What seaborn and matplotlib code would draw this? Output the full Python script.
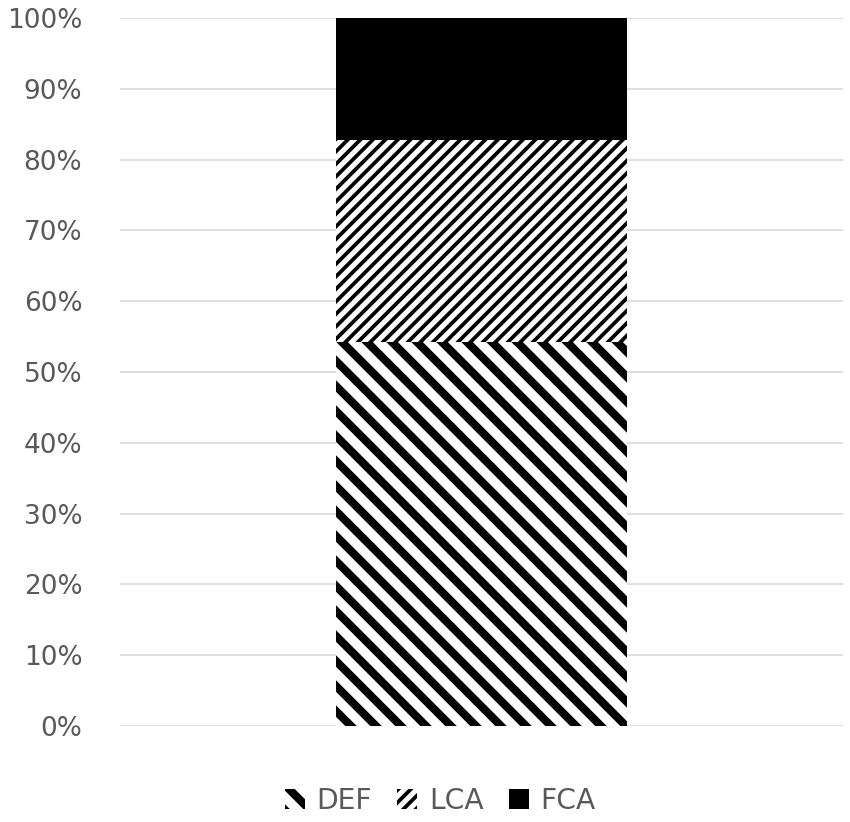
import numpy as np
import pandas as pd
import matplotlib.pyplot as plt
import matplotlib.ticker as mtick
import seaborn as sns
from matplotlib.patches import Patch

# shares of the single bar, in percent (bottom to top)
groups = ['DEF', 'LCA', 'FCA']
shares = [54.2, 28.6, 17.2]
hatches = ['\\\\', '////', '']
hatch_widths = [3.9, 1.8, 1.0]
fills = ['white', 'white', 'black']

if __name__ == '__main__':
    sns.set_theme(style="white")
    plt.rcParams['font.family'] = ['DejaVu Sans']

    dpi = 150
    figure = plt.figure(figsize=(850 / dpi, 822 / dpi), dpi=dpi)
    ax = figure.add_axes([0.141, 0.117, 0.851, 0.861])

    df = pd.DataFrame({'group': groups, 'share': shares})
    df['top'] = df['share'].cumsum()
    df['x'] = ''

    # draw tallest cumulative bar first so lower segments sit on top
    for i in reversed(range(len(df))):
        sns.barplot(x='x', y='top', data=df.iloc[[i]], ax=ax, width=0.402,
                    color=fills[i], edgecolor='black', linewidth=0,
                    hatch=hatches[i] or None, zorder=3)
        patch = ax.patches[-1]
        if hasattr(patch, 'set_hatch_linewidth'):
            patch.set_hatch_linewidth(hatch_widths[i])

    ax.set_ylim(0, 100)
    ax.set_xlim(-0.5, 0.5)
    ax.yaxis.set_major_locator(mtick.MultipleLocator(10))
    ax.yaxis.set_major_formatter(mtick.PercentFormatter(100, decimals=0))
    ax.yaxis.grid(True, color='#d9d9d9', linewidth=0.8, zorder=0)
    ax.set_axisbelow(True)
    for side in ['top', 'right', 'left', 'bottom']:
        ax.spines[side].set_visible(False)
    ax.tick_params(axis='y', length=0, pad=18, labelsize=12.7, labelcolor='#595959')
    ax.tick_params(axis='x', length=0, labelbottom=False)
    ax.set_xlabel('')
    ax.set_ylabel('')

    handles = []
    for i, g in enumerate(groups):
        h = Patch(facecolor=fills[i], edgecolor='black', linewidth=0,
                  hatch=hatches[i] or None, label=g)
        handles.append(h)
    leg = figure.legend(handles=handles, loc='center', bbox_to_anchor=(0.518, 0.026),
                        ncol=3, frameon=False, fontsize=13.5, handlelength=0.7,
                        handleheight=0.7, handletextpad=0.42, columnspacing=0.9)
    for t in leg.get_texts():
        t.set_color('#595959')
    for h, w in zip(leg.legend_handles, hatch_widths):
        if hasattr(h, 'set_hatch_linewidth'):
            h.set_hatch_linewidth(w)

    figure.savefig('out.png', dpi=dpi)
